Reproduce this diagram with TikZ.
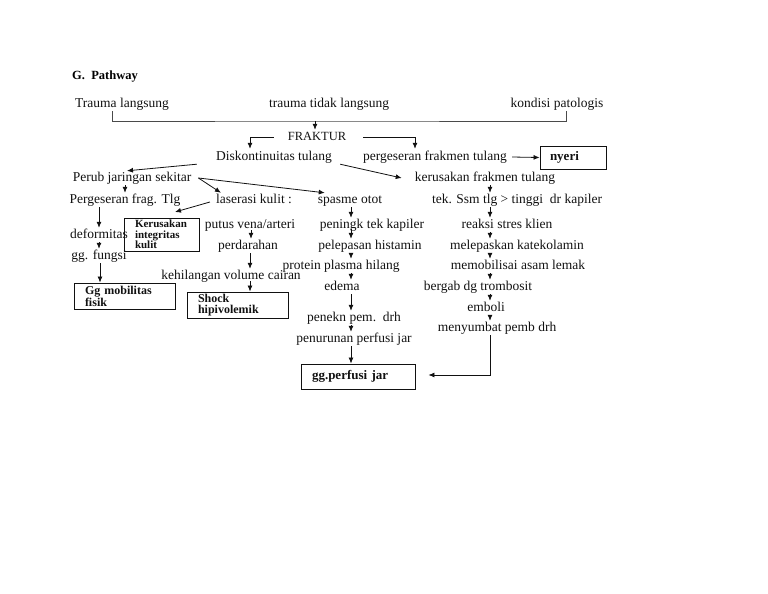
\documentclass[tikz,border=0pt]{standalone}
\usepackage{fontspec}
\setmainfont{Liberation Serif}
\usepackage{tikz}
\usetikzlibrary{arrows.meta, positioning, calc}
\definecolor{ink}{HTML}{111111}
\definecolor{rule}{HTML}{4A4A4A}

\begin{document}
\begin{tikzpicture}[x=1pt, y=-1pt,
  txt/.style={font=\fontsize{13.5}{15}\selectfont, inner sep=1pt,
              text height=9pt, text depth=3pt, text=ink},
  box/.style={draw=ink, line width=0.9pt, font=\bfseries\fontsize{12}{11}\selectfont,
              align=left, inner xsep=11pt, inner ysep=0pt, text=ink},
  arr/.style={draw=ink, line width=0.8pt, -{Latex[length=6pt,width=5pt]}},
  ln/.style={draw=rule, line width=0.8pt}
]
\useasboundingbox (0,0) rectangle (768,594);

% Title
\node[font=\bfseries\fontsize{12.5}{14}\selectfont, anchor=west, inner sep=0pt] (title) at (72,77) {G.\ \ Pathway};

% Causes and the bracket that joins them
\node[txt] (tl) at (122,104) {Trauma langsung};
\node[txt] (tt) at (329,104) {trauma tidak langsung};
\node[txt] (kp) at (557,104) {kondisi patologis};
\coordinate (join) at (315,121);
\draw[ln] (tl.south -| {112,0}) |- (join) -| (kp.south -| {566,0});
\node[txt, font=\fontsize{12.5}{14}\selectfont] (fr) at (317,137) {FRAKTUR};
\draw[arr] (join) -- (join |- fr.north);

% Row under FRAKTUR
\node[txt] (dk) at (274,157) {Diskontinuitas tulang};
\node[txt] (pf) at (435,157) {pergeseran frakmen tulang};
\node[box, font=\bfseries\fontsize{13}{14}\selectfont, minimum width=66pt, minimum height=23pt,
      text width=46pt, inner xsep=10pt] (ny) at (573,157.5) {nyeri};
\draw[arr] ([xshift=-13pt]fr.west) -| ([yshift=1pt]dk.north -| {250,0});
\draw[arr] ([xshift=16pt]fr.east) -| ([yshift=1pt]pf.north -| {415,0});
\draw[arr] ([xshift=4pt]pf.east) -- (ny.west);

\node[txt] (pj) at (132,178) {Perub jaringan sekitar};
\node[txt] (kf) at (485,178) {kerusakan frakmen tulang};
\draw[arr] ([xshift=-18pt]dk.south west) -- ([xshift=-5pt]pj.north);
\draw[arr] ([xshift=7pt]dk.south east) -- ([xshift=-12pt]kf.west);

% Left branch
\node[txt] (pg) at (125,200) {Pergeseran frag. Tlg};
\node[txt] (ls) at (254,200) {laserasi kulit :};
\node[txt] (sp) at (350,200) {spasme otot};
\node[txt] (tk) at (517,200) {tek. Ssm tlg > tinggi\ \ dr kapiler};
\draw[arr] (pj.south -| pg.north) -- (pg.north);
\draw[arr] ([xshift=6pt]pj.east) -- ([xshift=6pt]ls.north west);
\draw[arr] ([xshift=6pt]pj.east) -- ([xshift=8pt]sp.north west);
\draw[arr] (kf.south -| {490,0}) -- (tk.north -| {490,0});
\coordinate (lsend) at (175,212);
\draw[arr] ([xshift=-5pt,yshift=-2pt]ls.west) -- (lsend);

\node[txt] (df) at (99,235) {deformitas};
\node[box, font=\bfseries\fontsize{11}{10.5}\selectfont, minimum width=75pt, minimum height=33pt,
      text width=53pt] (kr) at (161.5,234.5) {Kerusakan\\integritas\\kulit};
\node[txt] (gf) at (99,256) {gg. fungsi};
\node[box, minimum width=101pt, minimum height=26pt, text width=79pt] (gm) at (124.5,296) {Gg mobilitas\\fisik};
\draw[arr] (pg.south -| {99,0}) -- (df.north);
\draw[arr] (df.south) -- (gf.north);
\draw[arr] (gf.south -| {100,0}) -- (gm.north -| {100,0});

% Laserasi branch
\node[txt] (pv) at (250,225) {putus vena/arteri};
\node[txt] (pd) at (248,246) {perdarahan};
\node[txt] (kv) at (231,276) {kehilangan volume cairan};
\node[box, minimum width=101pt, minimum height=26pt, text width=79pt] (sh) at (237.5,305) {Shock\\hipivolemik};
\draw[arr] ([yshift=2pt]pv.south -| {251,0}) -- (pd.north -| {251,0});
\draw[arr] (pd.south -| {250,0}) -- (kv.north -| {250,0});
\draw[arr] ([yshift=2pt]kv.south -| {250,0}) -- (sh.north -| {250,0});

% Middle column
\coordinate (mc) at (351,0);
\node[txt] (pk) at (372,225) {peningk tek kapiler};
\node[txt] (ph) at (370,246) {pelepasan histamin};
\node[txt] (pp) at (341,266) {protein plasma hilang};
\node[txt] (ed) at (342,287) {edema};
\node[txt] (pn) at (354,318) {penekn pem.\ \ drh};
\node[txt] (pr) at (354,339) {penurunan perfusi jar};
\node[box, font=\bfseries\fontsize{13}{14}\selectfont, minimum width=114pt, minimum height=25pt,
      text width=92pt] (gp) at (358,376.5) {gg.perfusi jar};
\draw[arr] (sp.south -| mc) -- (pk.north -| mc);
\draw[arr] ([yshift=3pt]pk.south -| mc) -- (ph.north -| mc);
\draw[arr] (ph.south -| mc) -- (pp.north -| mc);
\draw[arr] (pp.south -| mc) -- (ed.north -| mc);
\draw[arr] (ed.south -| mc) -- (pn.north -| mc);
\draw[arr] (pn.south -| mc) -- (pr.north -| mc);
\draw[arr] (pr.south -| mc) -- (gp.north -| mc);

% Right column
\coordinate (rc) at (490,0);
\node[txt] (rs) at (507,225) {reaksi stres klien};
\node[txt] (mk) at (517,246) {melepaskan katekolamin};
\node[txt] (ma) at (518,266) {memobilisai asam lemak};
\node[txt] (bt) at (478,287) {bergab dg trombosit};
\node[txt] (em) at (486,308) {emboli};
\node[txt] (mp) at (497,328) {menyumbat pemb drh};
\draw[arr] (tk.south -| rc) -- (rs.north -| rc);
\draw[arr] (rs.south -| rc) -- (mk.north -| rc);
\draw[arr] (mk.south -| rc) -- (ma.north -| rc);
\draw[arr] (ma.south -| rc) -- (bt.north -| rc);
\draw[arr] (bt.south -| rc) -- (em.north -| rc);
\draw[arr] (em.south -| rc) -- (mp.north -| rc);
\draw[arr] (mp.south -| rc) |- ([xshift=13pt,yshift=1.5pt]gp.east);
\end{tikzpicture}
\end{document}
